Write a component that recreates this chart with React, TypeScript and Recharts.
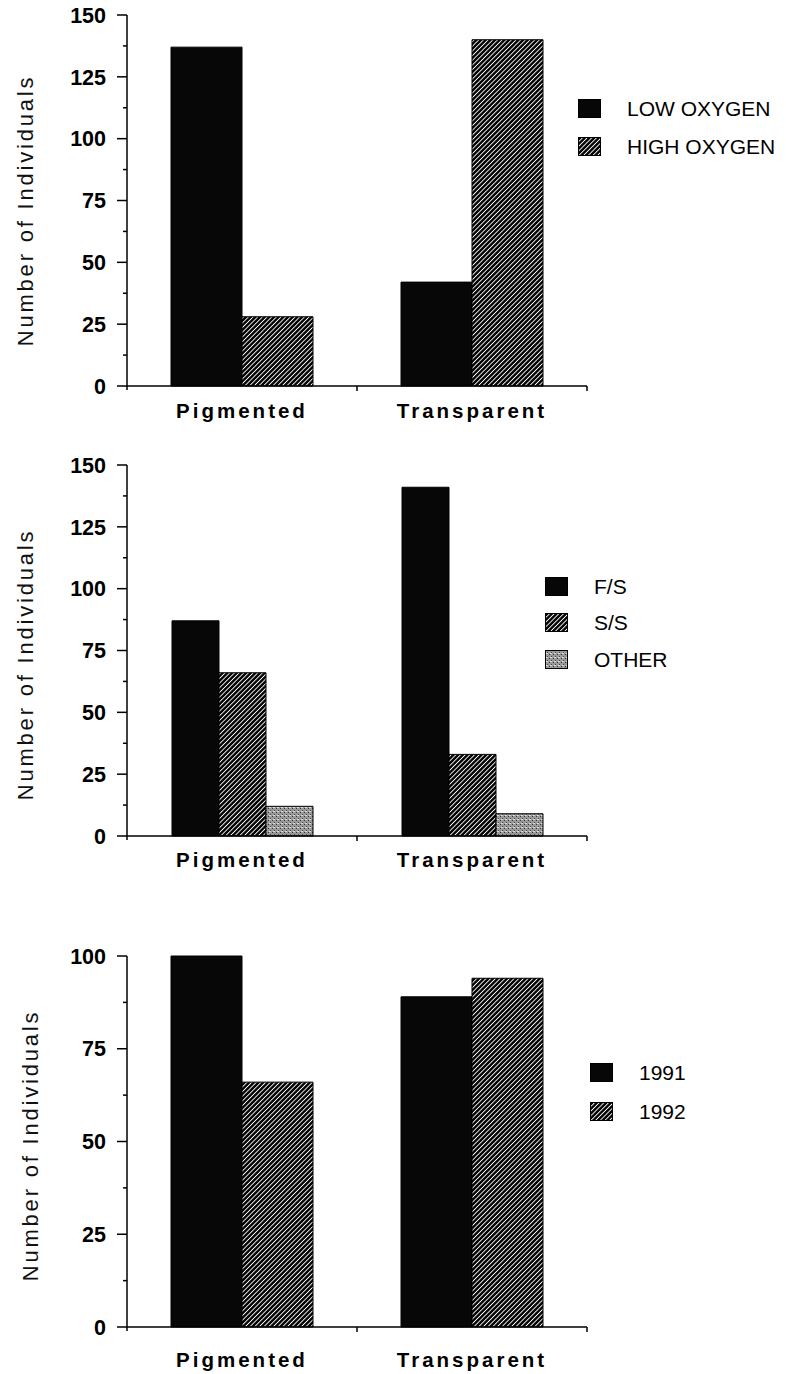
import React from "react";
import { BarChart, Bar, XAxis, YAxis, Legend } from "recharts";

const categories = ["Pigmented", "Transparent"];

const lowOxygen = [137, 42];
const highOxygen = [28, 140];

const fsGenotype = [87, 141];
const ssGenotype = [66, 33];
const otherGenotype = [12, 9];

const year1991 = [100, 89];
const year1992 = [66, 94];

const ticksTo150 = [0, 12.5, 25, 37.5, 50, 62.5, 75, 87.5, 100, 112.5, 125, 137.5, 150];
const labelsTo150 = [0, 25, 50, 75, 100, 125, 150];
const ticksTo100 = [0, 12.5, 25, 37.5, 50, 62.5, 75, 87.5, 100];
const labelsTo100 = [0, 25, 50, 75, 100];

const FONT = '"Liberation Sans", Arial, Helvetica, sans-serif';
const SOLID = "#070707";
const HATCH = "url(#hatch)";
const STIPPLE = "url(#stipple)";

type Series = { key: string; name: string; fill: string };

const oxygenData = categories.map((c, i) => ({ name: c, low: lowOxygen[i], high: highOxygen[i] }));
const genotypeData = categories.map((c, i) => ({
  name: c,
  fs: fsGenotype[i],
  ss: ssGenotype[i],
  other: otherGenotype[i],
}));
const yearData = categories.map((c, i) => ({ name: c, y91: year1991[i], y92: year1992[i] }));

const oxygenSeries: Series[] = [
  { key: "low", name: "LOW OXYGEN", fill: SOLID },
  { key: "high", name: "HIGH OXYGEN", fill: HATCH },
];
const genotypeSeries: Series[] = [
  { key: "fs", name: "F/S", fill: SOLID },
  { key: "ss", name: "S/S", fill: HATCH },
  { key: "other", name: "OTHER", fill: STIPPLE },
];
const yearSeries: Series[] = [
  { key: "y91", name: "1991", fill: SOLID },
  { key: "y92", name: "1992", fill: HATCH },
];

function ValueTick(props: any) {
  const { x, y, payload, labels } = props;
  const major = labels.includes(payload.value);
  return (
    <g>
      <line x1={x - (major ? 10 : 4)} x2={x} y1={y} y2={y} stroke="#000" strokeWidth={1.5} />
      {payload.value === 0 && <line x1={x} x2={x} y1={y} y2={y + 4} stroke="#000" strokeWidth={1.5} />}
      {major && (
        <text x={x - 21} y={y} dy="0.36em" textAnchor="end" fontFamily={FONT} fontSize={21.5} fontWeight="bold" fill="#000">
          {payload.value}
        </text>
      )}
    </g>
  );
}

function CatTick(props: any) {
  const { x, y, payload, labelDy } = props;
  const half = payload.offset ?? 115;
  return (
    <g>
      <line x1={x + half} x2={x + half} y1={y} y2={y + 5} stroke="#000" strokeWidth={1.5} />
      <text x={x} y={y + labelDy} textAnchor="middle" fontFamily={FONT} fontSize={20.5} fontWeight="bold" letterSpacing={3} fill="#000">
        {payload.value}
      </text>
    </g>
  );
}

function YLabel(props: any) {
  const { viewBox, baseX, shift } = props;
  const cy = viewBox.y + viewBox.height / 2 + shift;
  const x = (viewBox.x || 0) + baseX;
  return (
    <text
      transform={`translate(${x}, ${cy}) rotate(-90)`}
      textAnchor="middle"
      fontFamily={FONT}
      fontSize={22}
      letterSpacing={2.8}
      fill="#111"
    >
      Number of Individuals
    </text>
  );
}

function LegendBox(props: any) {
  const { payload, rowH, order } = props;
  const items = [...(payload || [])].sort(
    (a: any, b: any) => order.indexOf(a.value) - order.indexOf(b.value)
  );
  return (
    <div style={{ fontFamily: FONT, fontSize: 21, color: "#000" }}>
      {items.map((item: any) => (
        <div key={item.value} style={{ display: "flex", alignItems: "center", height: rowH }}>
          <svg width={23} height={19} style={{ display: "block", marginRight: 26 }}>
            <rect x={0.5} y={0.5} width={22} height={18} fill={item.color} stroke="#000" />
          </svg>
          <span style={{ lineHeight: 1 }}>{item.value}</span>
        </div>
      ))}
    </div>
  );
}

type PanelProps = {
  top: number;
  height: number;
  plotTop: number;
  plotBottom: number;
  data: any[];
  series: Series[];
  yMax: number;
  ticks: number[];
  labels: number[];
  catGap: number;
  labelDy: number;
  yLabelX: number;
  yLabelShift: number;
  legendLeft: number;
  legendTop: number;
  rowH: number;
};

function Panel(p: PanelProps) {
  const axisLine = { stroke: "#000", strokeWidth: 1.5 };
  return (
    <div style={{ position: "absolute", left: 0, top: p.top, width: 786, height: p.height }}>
      <BarChart
        width={786}
        height={p.height}
        data={p.data}
        margin={{ top: p.plotTop, right: 199, bottom: 0, left: 0 }}
        barGap={0}
        barCategoryGap={p.catGap}
      >
        <XAxis
          dataKey="name"
          height={p.height - p.plotBottom}
          axisLine={axisLine}
          tickLine={false}
          tickSize={0}
          tickMargin={0}
          interval={0}
          tick={<CatTick labelDy={p.labelDy} />}
        />
        <YAxis
          type="number"
          domain={[0, p.yMax]}
          ticks={p.ticks}
          interval={0}
          width={127}
          axisLine={axisLine}
          tickLine={false}
          tickSize={0}
          tickMargin={0}
          tick={<ValueTick labels={p.labels} />}
          label={<YLabel baseX={p.yLabelX} shift={p.yLabelShift} />}
        />
        <Legend
          align="center"
          verticalAlign="middle"
          wrapperStyle={{ left: p.legendLeft, top: p.legendTop, width: 200 }}
          content={<LegendBox rowH={p.rowH} order={p.series.map((s) => s.name)} />}
        />
        {p.series.map((s) => (
          <Bar key={s.key} dataKey={s.key} name={s.name} fill={s.fill} stroke="#000" strokeWidth={1} isAnimationActive={false} />
        ))}
      </BarChart>
    </div>
  );
}

export default function App() {
  return (
    <div style={{ position: "absolute", left: 0, top: 0, width: 786, height: 1374, background: "#fff" }}>
      <svg width={0} height={0} style={{ position: "absolute" }}>
        <defs>
          <pattern id="hatch" patternUnits="userSpaceOnUse" width={3.3} height={3.3} patternTransform="rotate(45)">
            <rect width={3.3} height={3.3} fill="#000" />
            <rect width={0.9} height={3.3} fill="#fff" />
          </pattern>
          <pattern id="stipple" patternUnits="userSpaceOnUse" width={4} height={4}>
            <rect width={4} height={4} fill="#9a9a9a" />
            <rect x={0} y={0} width={1} height={1} fill="#333" />
            <rect x={2} y={2} width={1} height={1} fill="#444" />
            <rect x={1} y={3} width={2} height={1} fill="#dcdcdc" />
          </pattern>
        </defs>
      </svg>
      <Panel
        top={0}
        height={440}
        plotTop={15}
        plotBottom={386}
        data={oxygenData}
        series={oxygenSeries}
        yMax={150}
        ticks={ticksTo150}
        labels={labelsTo150}
        catGap={44}
        labelDy={32}
        yLabelX={33}
        yLabelShift={10}
        legendLeft={578}
        legendTop={89}
        rowH={38}
      />
      <Panel
        top={440}
        height={450}
        plotTop={25}
        plotBottom={396}
        data={genotypeData}
        series={genotypeSeries}
        yMax={150}
        ticks={ticksTo150}
        labels={labelsTo150}
        catGap={45}
        labelDy={31}
        yLabelX={33}
        yLabelShift={14}
        legendLeft={545}
        legendTop={128}
        rowH={36.5}
      />
      <Panel
        top={890}
        height={484}
        plotTop={66}
        plotBottom={437}
        data={yearData}
        series={yearSeries}
        yMax={100}
        ticks={ticksTo100}
        labels={labelsTo100}
        catGap={44}
        labelDy={40}
        yLabelX={38}
        yLabelShift={4}
        legendLeft={590}
        legendTop={163}
        rowH={39}
      />
    </div>
  );
}
